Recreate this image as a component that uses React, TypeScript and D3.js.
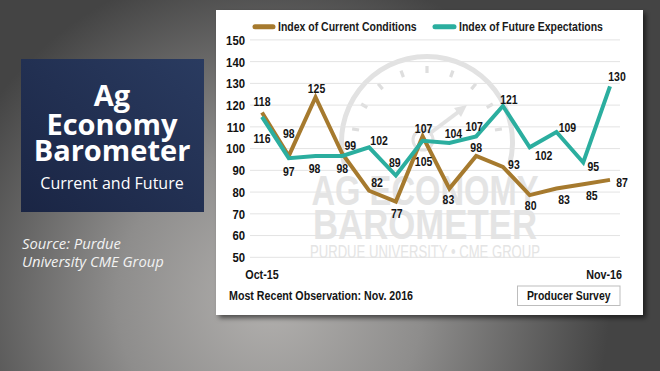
import React from "react";
import * as d3 from "d3";

// values
const months = [
  "Oct-15", "Nov-15", "Dec-15", "Jan-16", "Feb-16", "Mar-16", "Apr-16",
  "May-16", "Jun-16", "Jul-16", "Aug-16", "Sep-16", "Oct-16", "Nov-16",
];
const currentConditions = [118, 98, 125, 99, 82, 77, 107, 83, 98, 93, 80, 83, 85, 87];
const futureExpectations = [116, 97, 98, 98, 102, 89, 105, 104, 107, 121, 102, 109, 95, 130];
const yTicks = [50, 60, 70, 80, 90, 100, 110, 120, 130, 140, 150];
const xTickLabels = ["Oct-15", "Nov-16"];

// where each value label sits relative to its point [dx, dy]
const currentLabelOffsets = [
  [0, -10.5], [0, -22], [1, -9], [8, -8], [8, -8], [1, 12], [1, -7.5],
  [-1, 11], [0, -8], [11, -2.5], [1, 10.6], [7.5, 11], [8.5, 11], [12, 2.5],
];
const futureLabelOffsets = [
  [0, 22], [0, 13.5], [-1, 13], [0, 13], [10, -7], [-1, -13], [1, 21],
  [4, -9], [-2, -10], [6, -6], [14, 8], [11, -5], [10, 4], [7, -10],
];

const GOLD = "#a67a2e";
const TEAL = "#2bae9f";
// no narrow face installed, so Liberation Sans Bold gets squeezed horizontally
const COND = "'Liberation Sans', Arial, sans-serif";
const SQUEEZE = 0.84;
const SANS = "'Open Sans', 'Noto Sans', sans-serif";

const W = 660;
const H = 371;

const x = d3.scalePoint<string>().domain(months).range([262, 610]);
const y = d3.scaleLinear().domain([50, 150]).range([257.3, 39.9]);
// the plotted lines sit a few pixels under the gridlines in the original
const yLine = y.copy().range([260.3, 42.9]);

const line = d3
  .line<number>()
  .x((_, i) => x(months[i]) as number)
  .y((d) => yLine(d));

const gaugeCx = 427;
const gaugeCy = 142;
const gaugeArc = d3.arc()({
  innerRadius: 83,
  outerRadius: 88,
  startAngle: (-105 * Math.PI) / 180,
  endAngle: (105 * Math.PI) / 180,
}) as string;
const gaugeTicks = d3.range(-80, 81, 20);

type CondProps = {
  x: number;
  y: number;
  size: number;
  anchor?: "start" | "middle" | "end";
  dy?: string;
  fill?: string;
  children: React.ReactNode;
};

const CondText = ({ x, y, size, anchor = "start", dy, fill = "#141414", children }: CondProps) => (
  <text
    transform={`translate(${x},${y}) scale(${SQUEEZE},1)`}
    textAnchor={anchor}
    dy={dy}
    fontFamily={COND}
    fontWeight="bold"
    fontSize={size}
    fill={fill}
  >
    {children}
  </text>
);

const Series = ({ values, color, offsets }: { values: number[]; color: string; offsets: number[][] }) => (
  <g>
    <path d={line(values) as string} fill="none" stroke={color} strokeWidth={4} strokeLinejoin="miter" />
    {values.map((v, i) => (
      <CondText
        key={i}
        x={(x(months[i]) as number) + offsets[i][0]}
        y={yLine(v) + offsets[i][1]}
        dy="0.36em"
        anchor="middle"
        size={12.5}
      >
        {v}
      </CondText>
    ))}
  </g>
);

export default function App() {
  return (
    <svg
      width={W}
      height={H}
      viewBox={`0 0 ${W} ${H}`}
      style={{ position: "absolute", left: 0, top: 0, display: "block" }}
    >
      <defs>
        <radialGradient id="bg" gradientUnits="userSpaceOnUse" cx={270} cy={300} r={340}>
          <stop offset="0" stopColor="#b2b0ae" />
          <stop offset="0.45" stopColor="#8e8d8c" />
          <stop offset="1" stopColor="#444444" />
        </radialGradient>
        <linearGradient id="navy" x1="0" y1="1" x2="1" y2="0">
          <stop offset="0" stopColor="#1a2544" />
          <stop offset="1" stopColor="#2a3b60" />
        </linearGradient>
        <filter id="shadow" x="-5%" y="-5%" width="115%" height="115%">
          <feDropShadow dx={3} dy={3} stdDeviation={2.5} floodColor="#000" floodOpacity={0.55} />
        </filter>
      </defs>

      <rect width={W} height={H} fill="url(#bg)" />

      {/* title block */}
      <rect x={21} y={59} width={183} height={153} fill="url(#navy)" />
      <g fontFamily={SANS} fill="#fff" textAnchor="middle">
        <text x={112} y={106} fontSize={29} fontWeight={700}>Ag</text>
        <text x={112} y={135} fontSize={29} fontWeight={700}>Economy</text>
        <text x={112} y={161} fontSize={29} fontWeight={700}>Barometer</text>
        <text x={112} y={189} fontSize={16}>Current and Future</text>
      </g>
      <g fontFamily={SANS} fill="#f2f2f2" fontStyle="italic" fontSize={14.8}>
        <text x={22} y={249}>Source: Purdue</text>
        <text x={22} y={267}>University CME Group</text>
      </g>

      {/* chart panel */}
      <rect x={216} y={10} width={427} height={305} fill="#fff" filter="url(#shadow)" />

      {/* watermark */}
      <g>
        <path d={gaugeArc} transform={`translate(${gaugeCx},${gaugeCy})`} fill="#e2e2e2" />
        {gaugeTicks.map((a) => (
          <rect
            key={a}
            x={-1.6}
            y={-76}
            width={3.2}
            height={7}
            fill="#dedede"
            transform={`translate(${gaugeCx},${gaugeCy}) rotate(${a})`}
          />
        ))}
        <circle cx={gaugeCx - 4} cy={gaugeCy - 2} r={10} fill="none" stroke="#e2e2e2" strokeWidth={3} />
        <line x1={gaugeCx + 2} y1={gaugeCy - 8} x2={gaugeCx + 34} y2={gaugeCy - 32} stroke="#e2e2e2" strokeWidth={4} />
        <path d={`M${gaugeCx + 40},${gaugeCy - 37} l-13,3 l7,9 z`} fill="#e2e2e2" />
        <g fontFamily={COND} fontWeight="bold" fill="#e4e4e4" textAnchor="middle">
          <text x={425} y={205} fontSize={42} textLength={227} lengthAdjust="spacingAndGlyphs">AG ECONOMY</text>
          <text x={425} y={239} fontSize={42} textLength={224} lengthAdjust="spacingAndGlyphs">BAROMETER</text>
          <text x={425} y={258} fontSize={18} fontWeight="normal" textLength={230} lengthAdjust="spacingAndGlyphs">
            PURDUE UNIVERSITY • CME GROUP
          </text>
        </g>
      </g>

      {/* gridlines and y axis */}
      {yTicks.map((t) => (
        <g key={t}>
          <line x1={250} x2={620} y1={y(t)} y2={y(t)} stroke="#e3e3e3" strokeWidth={1} />
          <CondText x={245} y={y(t)} dy="0.36em" anchor="end" size={13.5} fill="#111">
            {t}
          </CondText>
        </g>
      ))}

      {/* legend */}
      <line x1={255} x2={273} y1={26.7} y2={26.7} stroke={GOLD} strokeWidth={5} strokeLinecap="round" />
      <CondText x={278} y={31} size={12.5} fill="#1a1a1a">Index of Current Conditions</CondText>
      <line x1={435} x2={454} y1={26.7} y2={26.7} stroke={TEAL} strokeWidth={5} strokeLinecap="round" />
      <CondText x={459} y={31} size={12.5} fill="#1a1a1a">Index of Future Expectations</CondText>

      <Series values={currentConditions} color={GOLD} offsets={currentLabelOffsets} />
      <Series values={futureExpectations} color={TEAL} offsets={futureLabelOffsets} />

      {/* x labels and footer */}
      <CondText x={x(xTickLabels[0]) as number} y={278.5} anchor="middle" size={12.8}>{xTickLabels[0]}</CondText>
      <CondText x={(x(xTickLabels[1]) as number) + 12} y={278.5} anchor="end" size={12.8}>{xTickLabels[1]}</CondText>
      <CondText x={229} y={300} size={12.7}>Most Recent Observation: Nov. 2016</CondText>
      <rect x={517.5} y={286} width={102.5} height={19.5} fill="#fff" stroke="#bdbdbd" strokeWidth={1} />
      <CondText x={568.7} y={300.3} anchor="middle" size={12.45}>Producer Survey</CondText>
    </svg>
  );
}
